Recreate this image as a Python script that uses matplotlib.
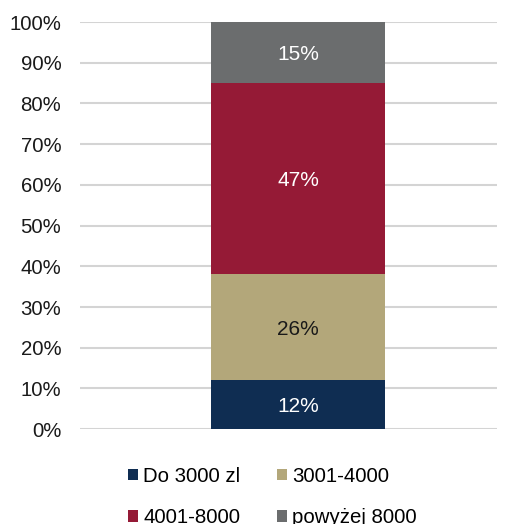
import matplotlib.pyplot as plt
from matplotlib.ticker import FuncFormatter

plt.rcParams['font.family'] = ['Liberation Sans', 'DejaVu Sans']

# dane
kategorie = ['Do 3000 zl', '3001-4000', '4001-8000', 'powyżej 8000']
udzialy = [12, 26, 47, 15]
kolory = ['#0f2d52', '#b3a77a', '#951a36', '#6b6d6e']
kolory_tekstu = ['white', '#1a1a1a', 'white', 'white']

fig = plt.figure(figsize=(5.13, 5.24), dpi=100)
ax = fig.add_axes([0.156, 0.181, 0.813, 0.777])

dol = 0
for kat, val, kol, kt in zip(kategorie, udzialy, kolory, kolory_tekstu):
    ax.bar(0, val, bottom=dol, width=0.834, color=kol, label=kat, zorder=3)
    ax.text(0, dol + val / 2, f'{val}%', ha='center', va='center_baseline',
            color=kt, fontsize=15, zorder=4)
    dol += val

ax.set_xlim(-1.046, 0.954)
ax.set_ylim(0, 100)
ax.set_yticks(range(0, 101, 10))
ax.yaxis.set_major_formatter(FuncFormatter(lambda v, p: f'{int(v)}%'))
ax.tick_params(axis='y', length=0, pad=13.5, labelsize=14.7, labelcolor='#1a1a1a')
ax.set_xticks([])
ax.grid(axis='y', color='#d4d4d4', linewidth=1.5, zorder=0)
for s in ax.spines.values():
    s.set_visible(False)

# legenda wierszami: kolejnosc jak w oryginale
h, l = ax.get_legend_handles_labels()
kol_leg = [0, 2, 1, 3]
fig.legend([h[i] for i in kol_leg], [l[i] for i in kol_leg],
           loc='upper left', bbox_to_anchor=(0.249, 0.109), ncol=2,
           frameon=False, fontsize=14.7, handlelength=0.5, handleheight=0.5,
           handletextpad=0.25, columnspacing=1.8, labelspacing=1.1,
           borderpad=0, borderaxespad=0)

plt.savefig('out.png', dpi=100)
